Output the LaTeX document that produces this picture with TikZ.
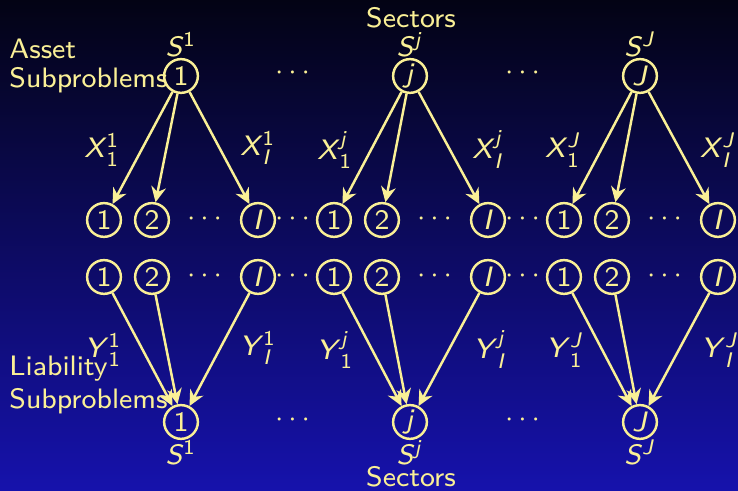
\documentclass[tikz,border=0pt]{standalone}
\usepackage{amsmath}
\usetikzlibrary{arrows.meta}

\definecolor{pale}{RGB}{250,240,150}
\definecolor{bgtop}{RGB}{3,3,20}
\definecolor{bgbot}{RGB}{22,18,172}

% variable with sub- and superscript, all in the sans text font
\newcommand{\flow}[3]{\textit{#1}$^{\text{#3}}_{\text{#2}}$}

\tikzset{
  sub/.style={draw=pale,circle,inner sep=0.5pt,minimum size=9.6pt,line width=0.7pt},
  sec/.style 2 args={sub,label={[label distance=#1]#2}},
  flow/.style={->,draw=pale,line width=0.7pt},
}

\begin{document}
\begin{tikzpicture}[>={Stealth[length=4.4pt,width=4.2pt]},font=\sffamily\footnotesize,every node/.style={text=pale}]
\shade[top color=bgtop,bottom color=bgbot] (0,0) rectangle (7.38,4.91);
\useasboundingbox (0,0) rectangle (7.38,4.91);

% asset side
\node (sectop) at (4.11,4.73) {Sectors};
\node[align=left,anchor=west] (asset) at (-0.03,4.25) {Asset\\[-1.5pt]Subproblems};
\node[sec={-3.2pt}{above:\textit{S}$^{\text{1}}$}] (s1) at (1.81,4.15) {1};
\node[sec={-3.2pt}{above:\textit{S}$^{\text{\textit{j}}}$}] (sj) at (4.10,4.15) {\textit{j}};
\node[sec={-3.2pt}{above:\textit{S}$^{\text{\textit{J}}}$}] (sJ) at (6.40,4.15) {\textit{J}};
\node (topdots1) at (2.95,4.18) {$\cdots$};
\node (topdots2) at (5.25,4.18) {$\cdots$};

\node (x11) at (1.02,3.41) {\flow{X}{1}{1}};
\node (x1n) at (2.58,3.43) {\flow{X}{\textit{I}}{1}};
\node (xj1) at (3.35,3.41) {\flow{X}{1}{\textit{j}}};
\node (xjn) at (4.88,3.41) {\flow{X}{\textit{I}}{\textit{j}}};
\node (xJ1) at (5.63,3.41) {\flow{X}{1}{\textit{J}}};
\node (xJn) at (7.18,3.41) {\flow{X}{\textit{I}}{\textit{J}}};

\node[sub] (a11) at (1.04,2.71) {1};
\node[sub] (a12) at (1.52,2.71) {2};
\node (a1d) at (2.07,2.72) {$\cdots$};
\node[sub] (a1n) at (2.58,2.71) {\textit{I}};
\node (ad1) at (2.95,2.72) {$\cdots$};
\node[sub] (aj1) at (3.34,2.71) {1};
\node[sub] (aj2) at (3.82,2.71) {2};
\node (ajd) at (4.37,2.72) {$\cdots$};
\node[sub] (ajn) at (4.88,2.71) {\textit{I}};
\node (ad2) at (5.25,2.72) {$\cdots$};
\node[sub] (aJ1) at (5.64,2.71) {1};
\node[sub] (aJ2) at (6.12,2.71) {2};
\node (aJd) at (6.67,2.72) {$\cdots$};
\node[sub] (aJn) at (7.18,2.71) {\textit{I}};

\draw[flow] (s1) -- (a11);
\draw[flow] (s1) -- (a12);
\draw[flow] (s1) -- (a1n);
\draw[flow] (sj) -- (aj1);
\draw[flow] (sj) -- (aj2);
\draw[flow] (sj) -- (ajn);
\draw[flow] (sJ) -- (aJ1);
\draw[flow] (sJ) -- (aJ2);
\draw[flow] (sJ) -- (aJn);

% liability side
\node[sub] (l11) at (1.04,2.14) {1};
\node[sub] (l12) at (1.52,2.14) {2};
\node (l1d) at (2.07,2.15) {$\cdots$};
\node[sub] (l1n) at (2.58,2.14) {\textit{I}};
\node (ld1) at (2.95,2.15) {$\cdots$};
\node[sub] (lj1) at (3.34,2.14) {1};
\node[sub] (lj2) at (3.82,2.14) {2};
\node (ljd) at (4.37,2.15) {$\cdots$};
\node[sub] (ljn) at (4.88,2.14) {\textit{I}};
\node (ld2) at (5.25,2.15) {$\cdots$};
\node[sub] (lJ1) at (5.64,2.14) {1};
\node[sub] (lJ2) at (6.12,2.14) {2};
\node (lJd) at (6.67,2.15) {$\cdots$};
\node[sub] (lJn) at (7.18,2.14) {\textit{I}};

\node (y11) at (1.03,1.41) {\flow{Y}{1}{1}};
\node (y1n) at (2.58,1.43) {\flow{Y}{\textit{I}}{1}};
\node (yj1) at (3.35,1.41) {\flow{Y}{1}{\textit{j}}};
\node (yjn) at (4.90,1.41) {\flow{Y}{\textit{I}}{\textit{j}}};
\node (yJ1) at (5.65,1.41) {\flow{Y}{1}{\textit{J}}};
\node (yJn) at (7.20,1.41) {\flow{Y}{\textit{I}}{\textit{J}}};

\node[align=left,anchor=west] (liab) at (-0.03,1.06) {Liability\\Subproblems};
\node[sec={-3.5pt}{below:\textit{S}$^{\text{1}}$}] (b1) at (1.81,0.69) {1};
\node[sec={-3.5pt}{below:\textit{S}$^{\text{\textit{j}}}$}] (bj) at (4.10,0.69) {\textit{j}};
\node[sec={-3.5pt}{below:\textit{S}$^{\text{\textit{J}}}$}] (bJ) at (6.40,0.69) {\textit{J}};
\node (botdots1) at (2.95,0.71) {$\cdots$};
\node (botdots2) at (5.25,0.71) {$\cdots$};
\node (secbot) at (4.11,0.14) {Sectors};

\draw[flow] (l11) -- (b1);
\draw[flow] (l12) -- (b1);
\draw[flow] (l1n) -- (b1);
\draw[flow] (lj1) -- (bj);
\draw[flow] (lj2) -- (bj);
\draw[flow] (ljn) -- (bj);
\draw[flow] (lJ1) -- (bJ);
\draw[flow] (lJ2) -- (bJ);
\draw[flow] (lJn) -- (bJ);
\end{tikzpicture}
\end{document}
